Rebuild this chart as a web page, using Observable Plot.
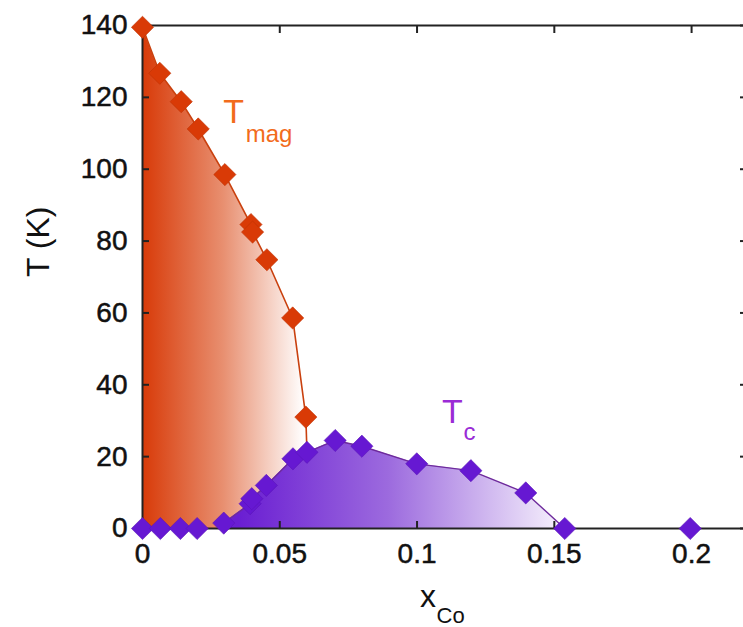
<!DOCTYPE html>
<html>
<head>
<meta charset="utf-8">
<script src="https://cdn.jsdelivr.net/npm/d3@7"></script>
<script src="https://cdn.jsdelivr.net/npm/@observablehq/plot@0.6"></script>
<style>
  html, body { margin: 0; padding: 0; background: #fff; overflow: hidden; width: 743px; height: 627px; }
</style>
</head>
<body>
<div id="chart"></div>
<script>
// Magnetic ordering temperature T_mag (K) against Co content x
const tmagX = [0, 0.0063, 0.0141, 0.0203, 0.0300, 0.0395, 0.0401, 0.0453, 0.0547, 0.0595];
const tmagT = [139.5, 126.7, 118.8, 111.2, 98.5, 84.6, 82.5, 74.8, 58.6, 31.0];

// Superconducting transition temperature T_c (K) against Co content x
const tcX = [0, 0.0065, 0.0138, 0.0199, 0.0296, 0.0392, 0.0398, 0.0451, 0.0548, 0.0599, 0.0702, 0.0799, 0.0999, 0.1196, 0.1396, 0.1538, 0.1995];
const tcT = [0, 0, 0, 0, 1.5, 6.9, 8.3, 12.0, 19.4, 21.2, 24.5, 22.9, 18.0, 16.1, 9.9, 0, 0];

// Axis ticks
const xTicks = [0, 0.05, 0.1, 0.15, 0.2];
const xTickLabels = ["0", "0.05", "0.1", "0.15", "0.2"];
const yTicks = [0, 20, 40, 60, 80, 100, 120, 140];

const tmag = tmagX.map((x, i) => ({x, t: tmagT[i]}));
const tc = tcX.map((x, i) => ({x, t: tcT[i]}));

// Superconducting dome: from the first non-zero Tc to where it vanishes again
const dome = tc.filter(d => d.x >= 0.0296 && d.x <= 0.1538);
// The magnetic boundary ends where it meets the dome
const meet = tc.find(d => d.x === 0.0599);
const magLine = tmag.concat([meet]);

const orange = "#d93a06";
const violet = "#6618d2";

// Horizontal colour ramps for the two phase regions
function gradients(index, {x}) {
  const defs = d3.create("svg:defs");
  const g1 = defs.append("linearGradient")
    .attr("id", "grad-mag").attr("gradientUnits", "userSpaceOnUse")
    .attr("x1", x(0)).attr("x2", x(0.059)).attr("y1", 0).attr("y2", 0);
  g1.append("stop").attr("offset", 0).attr("stop-color", "#d83a08");
  g1.append("stop").attr("offset", 0.5).attr("stop-color", "#e88f70");
  g1.append("stop").attr("offset", 1).attr("stop-color", "#ffffff");
  const g2 = defs.append("linearGradient")
    .attr("id", "grad-sc").attr("gradientUnits", "userSpaceOnUse")
    .attr("x1", x(0.035)).attr("x2", x(0.156)).attr("y1", 0).attr("y2", 0);
  g2.append("stop").attr("offset", 0).attr("stop-color", "#6a1ed2");
  g2.append("stop").attr("offset", 0.45).attr("stop-color", "#9c6ade");
  g2.append("stop").attr("offset", 1).attr("stop-color", "#fbf8fe");
  return defs.node();
}

const chart = Plot.plot({
  width: 750,
  height: 627,
  marginTop: 25,
  marginBottom: 99,
  marginLeft: 142,
  marginRight: 4,
  style: {
    fontFamily: "'Liberation Sans', Arial, sans-serif",
    fontSize: "28px",
    color: "#111",
    background: "transparent",
    maxWidth: "none"
  },
  x: {domain: [0, 0.22]},
  y: {domain: [0, 140]},
  marks: [
    gradients,
    Plot.areaY(magLine, {x: "x", y: "t", fill: "url(#grad-mag)"}),
    Plot.areaY(dome, {x: "x", y: "t", fill: "url(#grad-sc)"}),
    Plot.line(magLine, {x: "x", y: "t", stroke: "#c9400e", strokeWidth: 1.6}),
    Plot.line(dome, {x: "x", y: "t", stroke: "#6e2b9c", strokeWidth: 1.4}),

    // inward ticks on all four sides
    Plot.axisY(yTicks, {anchor: "left", tickSize: 7, dx: 7, fill: "none", label: null, stroke: "#222", strokeWidth: 2}),
    Plot.axisY(yTicks, {anchor: "right", tickSize: 7, dx: -7, fill: "none", label: null, stroke: "#222", strokeWidth: 2}),
    Plot.axisX(xTicks, {anchor: "bottom", tickSize: 7, dy: -7, fill: "none", label: null, stroke: "#222", strokeWidth: 2}),
    Plot.axisX(xTicks, {anchor: "top", tickSize: 7, dy: 7, fill: "none", label: null, stroke: "#222", strokeWidth: 2}),
    // tick labels
    Plot.axisY(yTicks, {anchor: "left", tickSize: 0, tickPadding: 15, fontSize: 28, label: null,
      textStroke: "#111", textStrokeWidth: 0.5}),
    Plot.axisX(xTicks, {anchor: "bottom", tickSize: 0, tickPadding: 15, fontSize: 28, label: null,
      textStroke: "#111", textStrokeWidth: 0.5,
      tickFormat: d => xTickLabels[xTicks.indexOf(d)]}),
    Plot.frame({stroke: "#222", strokeWidth: 2}),

    // axis titles
    Plot.text(["T (K)"], {frameAnchor: "left", rotate: -90, dx: -104, fontSize: 32, lineAnchor: "middle", fill: "#111"}),
    Plot.text(["x"], {frameAnchor: "bottom", dx: -16.5, dy: 78, fontSize: 32, lineAnchor: "bottom", fill: "#111"}),
    Plot.text(["Co"], {frameAnchor: "bottom", dx: -8, dy: 94, fontSize: 22, textAnchor: "start", lineAnchor: "bottom", fill: "#111"}),

    // data points
    Plot.dot(tc, {x: "x", y: "t", symbol: "diamond2", r: 10, fill: violet, stroke: "#5a14b8", strokeWidth: 0.6}),
    Plot.dot(tmag, {x: "x", y: "t", symbol: "diamond2", r: 10, fill: orange, stroke: "#c03204", strokeWidth: 0.6}),

    // curve labels
    Plot.text([{x: 0.0332, t: 113}], {x: "x", y: "t", text: () => "T", fontSize: 34, fill: "#f26b1c", lineAnchor: "bottom"}),
    Plot.text([{x: 0.0332, t: 113}], {x: "x", y: "t", text: () => "mag", fontSize: 24, fill: "#f26b1c", textAnchor: "start", lineAnchor: "bottom", dx: 12, dy: 19}),
    Plot.text([{x: 0.1129, t: 29.5}], {x: "x", y: "t", text: () => "T", fontSize: 34, fill: "#9a2bd6", lineAnchor: "bottom"}),
    Plot.text([{x: 0.1129, t: 29.5}], {x: "x", y: "t", text: () => "c", fontSize: 24, fill: "#9a2bd6", textAnchor: "start", lineAnchor: "bottom", dx: 11, dy: 17})
  ]
});

document.getElementById("chart").appendChild(chart);
</script>
</body>
</html>
